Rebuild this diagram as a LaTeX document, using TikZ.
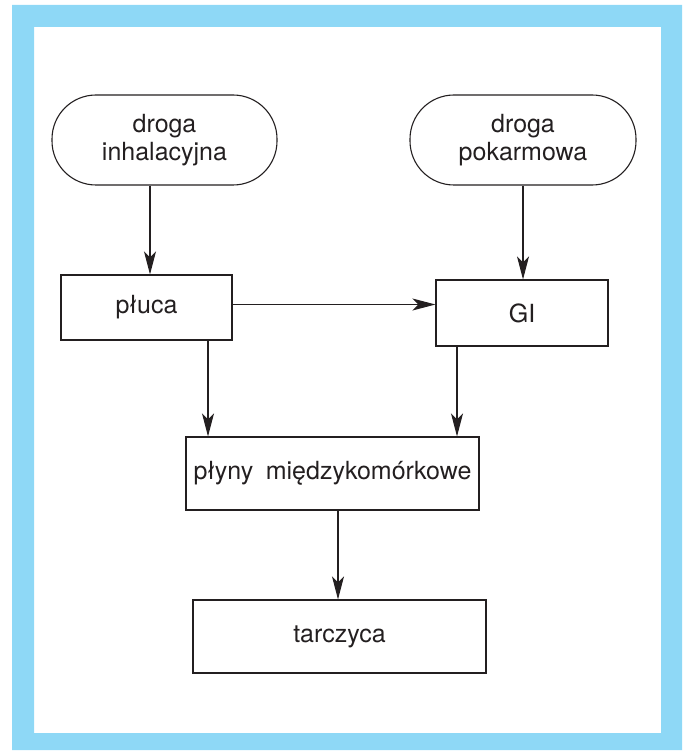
\documentclass[tikz,border=0pt]{standalone}
\usepackage{fontspec}
\setmainfont{TeX Gyre Heros}
\usetikzlibrary{arrows.meta,calc}
\definecolor{c8ed8f6}{RGB}{142,216,246}
\definecolor{c231f20}{RGB}{35,31,32}
\tikzset{every path/.style={line width=1.1pt,color=c231f20},
  arr/.style={draw,-{Stealth[length=23pt,width=12pt,inset=6pt]}}}

\begin{document}
\begin{tikzpicture}[x=1pt,y=-1pt]
\useasboundingbox (0,0) rectangle (685,751);
\fill[c8ed8f6, even odd rule] (12,5) rectangle (682,750) (34,27) rectangle (661,733);

\begin{scope}[every node/.style={draw,line width=1.1pt,text=c231f20,align=center,
inner sep=0pt,font=\fontsize{25}{28}\selectfont}]
\node[minimum width=225pt,minimum height=90pt,rounded corners=44pt] (inh) at (164.5,140) {droga\\inhalacyjna};
\node[minimum width=226pt,minimum height=90pt,rounded corners=44pt] (pok) at (523,140) {droga\\pokarmowa};
\node[minimum width=171pt,minimum height=65pt] (pluca) at (146.5,307.5) {płuca};
\node[minimum width=172pt,minimum height=66pt] (gi) at (522,313) {GI};
\node[minimum width=293pt,minimum height=73pt] (plyny) at (332.5,473.5) {płyny\hspace{0.5em}międzykomórkowe};
\node[minimum width=293pt,minimum height=73pt] (tarcz) at (339.5,636.5) {tarczyca};
\end{scope}

\path[arr] ([xshift=-14.5pt]inh.south) -- ([xshift=-14.5pt]inh.south |- pluca.north);
\path[arr] (pok.south) -- (pok.south |- gi.north);
\path[arr] ([yshift=3pt]pluca.east) -- ([yshift=3pt]pluca.east -| gi.west);
\path[arr] ([xshift=61.5pt]pluca.south) -- ([xshift=61.5pt]pluca.south |- plyny.north);
\path[arr] ([xshift=-65pt]gi.south) -- ([xshift=-65pt]gi.south |- plyny.north);
\path[arr] ([xshift=5.5pt]plyny.south) -- ([xshift=5.5pt]plyny.south |- tarcz.north);

\end{tikzpicture}
\end{document}
